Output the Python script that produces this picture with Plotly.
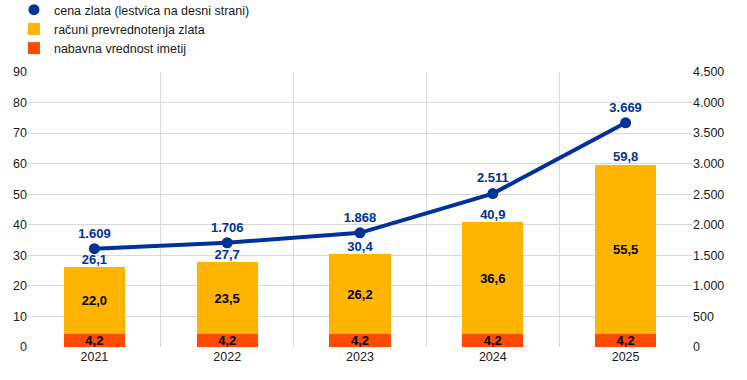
import plotly.graph_objects as go

years = ["2021", "2022", "2023", "2024", "2025"]
acquisition = [4.2, 4.2, 4.2, 4.2, 4.2]
revaluation = [22.0, 23.5, 26.2, 36.6, 55.5]
totals = [26.1, 27.7, 30.4, 40.9, 59.8]
gold_price = [1609, 1706, 1868, 2511, 3669]

BLUE = "#003299"
YELLOW = "#FFB400"
ORANGE = "#FF4B00"
FONT = "Liberation Sans, Arial, sans-serif"
LBL = 13
TICK = 12.5

fig = go.Figure()

fig.add_trace(go.Scatter(
    x=[None], y=[None], yaxis="y2", mode="markers",
    name="cena zlata (lestvica na desni strani)",
    marker=dict(color=BLUE, size=11), legendrank=1,
))
fig.add_trace(go.Bar(
    x=years, y=acquisition, name="nabavna vrednost imetij",
    marker=dict(color=ORANGE, line=dict(width=0)),
    texttemplate="%{y:.1f}", textposition="inside", insidetextanchor="middle",
    constraintext="none",
    textfont=dict(color="black", size=LBL, family=FONT, weight="bold"),
    width=0.46, legendrank=3,
))
fig.add_trace(go.Bar(
    x=years, y=revaluation, name="računi prevrednotenja zlata",
    marker=dict(color=YELLOW, line=dict(width=0)),
    texttemplate="%{y:.1f}", textposition="inside", insidetextanchor="middle",
    constraintext="none",
    textfont=dict(color="black", size=LBL, family=FONT, weight="bold"),
    width=0.46, legendrank=2,
))
fig.add_trace(go.Scatter(
    x=years, y=totals, mode="text", texttemplate="%{y:.1f}",
    textposition="top center",
    textfont=dict(color=BLUE, size=LBL, family=FONT, weight="bold"),
    showlegend=False, hoverinfo="skip", cliponaxis=False,
))
fig.add_trace(go.Scatter(
    x=years, y=gold_price, yaxis="y2", mode="lines+markers+text",
    line=dict(color=BLUE, width=4), marker=dict(color=BLUE, size=11),
    texttemplate="%{y:,.0f}", textposition="top center",
    textfont=dict(color=BLUE, size=LBL, family=FONT, weight="bold"),
    showlegend=False, cliponaxis=False,
))

fig.update_layout(
    width=747, height=380,
    barmode="stack",
    separators=",.",
    plot_bgcolor="white", paper_bgcolor="white",
    margin=dict(l=28, r=55, t=72, b=33, autoexpand=False),
    font=dict(family=FONT, size=TICK, color="#1a1a1a"),
    legend=dict(x=0.0187, y=1.28, xref="container", yref="paper",
                xanchor="left", yanchor="top", traceorder="normal",
                orientation="v", font=dict(size=12.5, color="#1a1a1a"),
                tracegroupgap=0, itemwidth=30, bgcolor="rgba(0,0,0,0)"),
    xaxis=dict(type="category", tickson="boundaries", showgrid=True,
               gridcolor="#d9d9d9", gridwidth=1, ticks="", showline=False,
               automargin=False, tickfont=dict(size=TICK, color="#1a1a1a")),
    yaxis=dict(range=[0, 90], dtick=10, showgrid=True, gridcolor="#d9d9d9",
               zeroline=False, ticks="", automargin=False,
               tickfont=dict(size=TICK, color="#1a1a1a")),
    yaxis2=dict(range=[0, 4500], dtick=500, overlaying="y", side="right",
                showgrid=False, zeroline=False, tickformat=",d", automargin=False,
                tickfont=dict(size=TICK, color="#1a1a1a")),
    bargap=0.54,
)

fig.write_html("out.html", config={"displayModeBar": False},
               post_script="document.body.style.margin='0';")
